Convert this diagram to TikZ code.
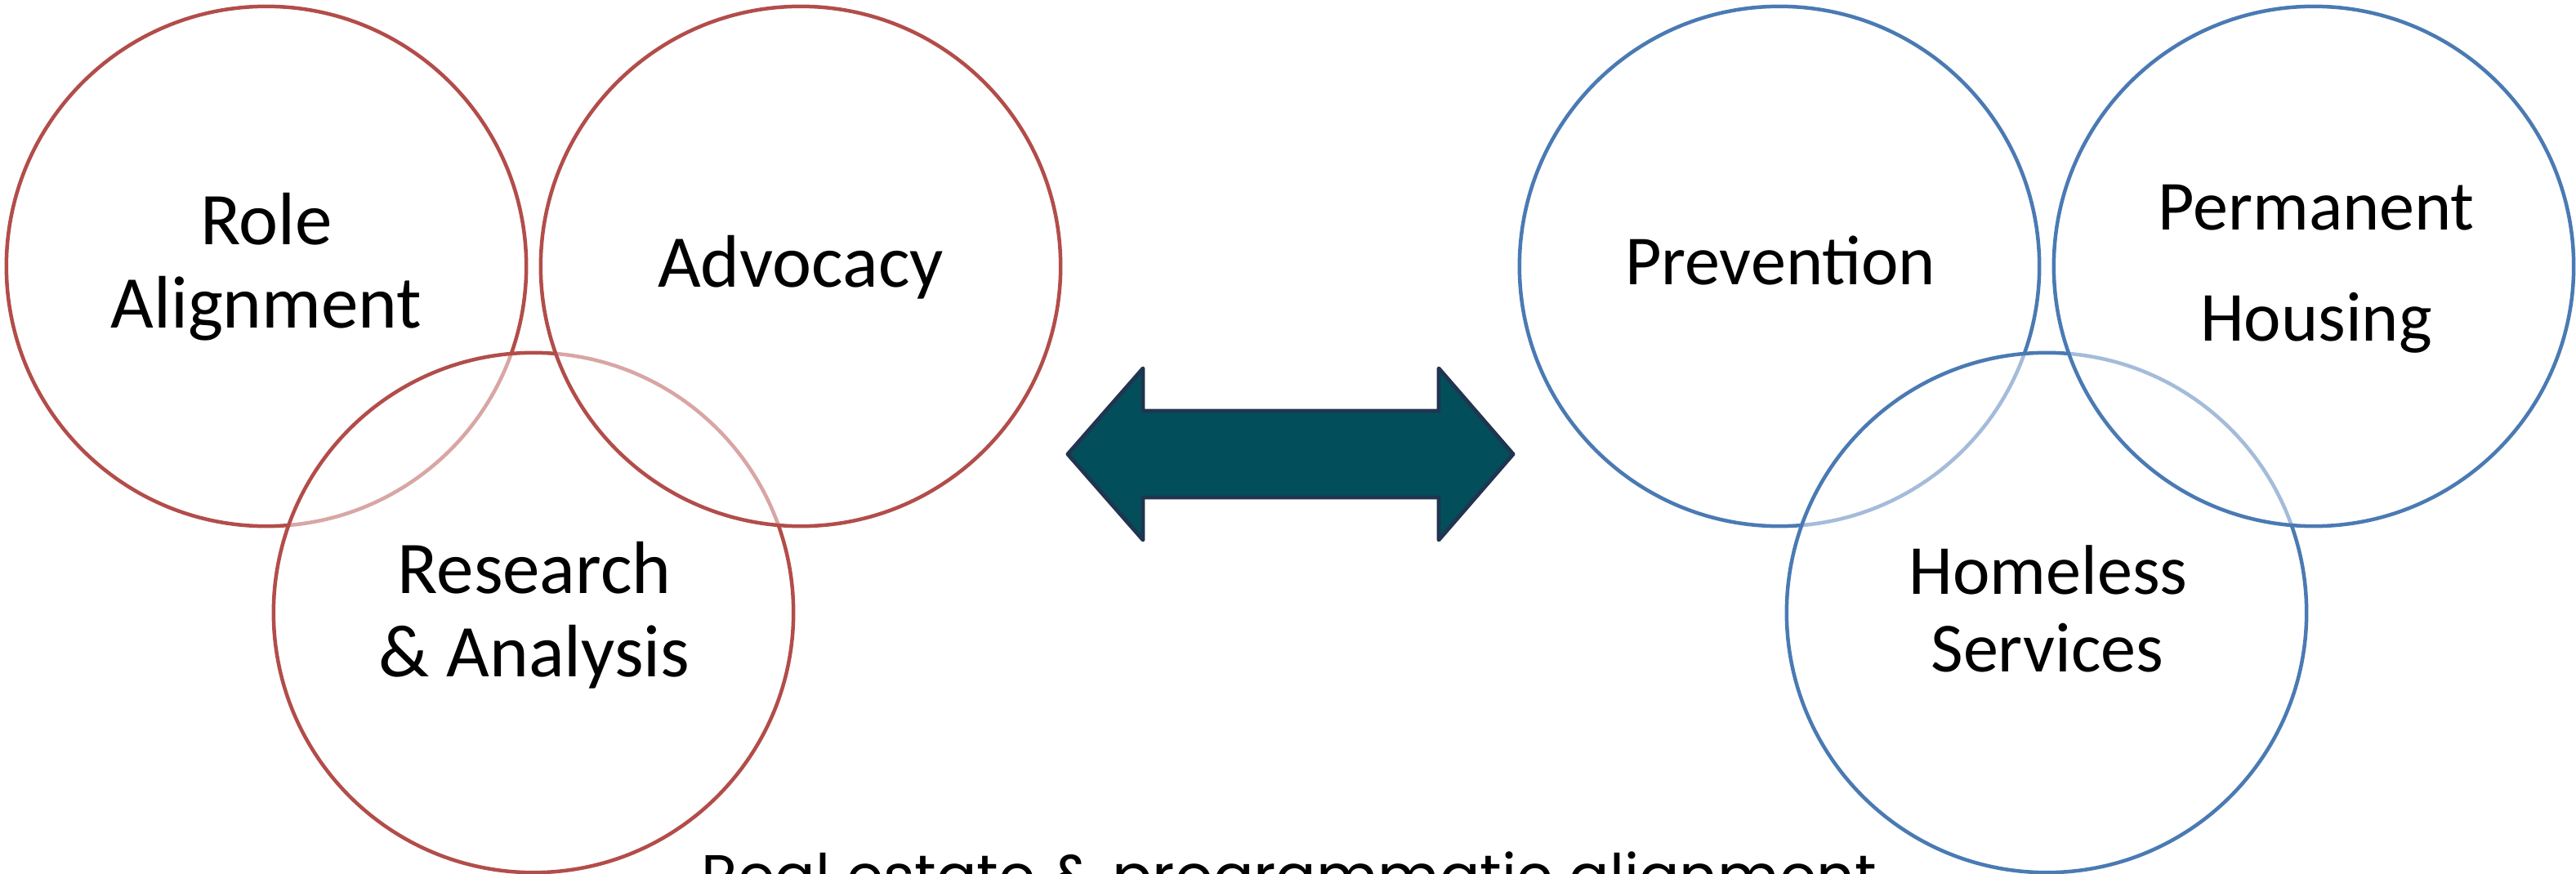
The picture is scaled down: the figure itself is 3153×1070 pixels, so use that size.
\documentclass[tikz,border=0pt]{standalone}
\usepackage{graphicx}
\usepackage{fontspec}
\setmainfont{Carlito}
\newfontfamily\captfont{Poppins}
\definecolor{vred}{HTML}{B24D4A}
\definecolor{vblue}{HTML}{4A7AB3}
\definecolor{arrfill}{HTML}{034E5B}
\definecolor{arrline}{HTML}{1F3550}
\begin{document}
\begin{tikzpicture}[x=0.01cm,y=-0.01cm,
  ring/.style={circle, draw, line width=1.28pt, minimum size=6.36cm, inner sep=0pt, fill=white, fill opacity=0.5},
  redring/.style={ring, draw=vred},
  bluering/.style={ring, draw=vblue},
  lblL/.style={anchor=base, inner sep=0pt, font=\fontsize{25.9}{31}\selectfont},
  lblR/.style={anchor=base, inner sep=0pt, font=\fontsize{24.5}{29}\selectfont},
  bigarrow/.style={fill=arrfill, draw=arrline, line width=1.4pt, line join=round}]
\useasboundingbox (0,0) rectangle (3153,1070);
% left group (stacking order: role, research, advocacy)
\node[redring] (role) at (326,326) {};
\node[redring] (research) at (653,750) {};
\node[redring] (advocacy) at (980,326) {};
% right group
\node[bluering] (prevention) at (2178,326) {};
\node[bluering] (homeless) at (2505,750) {};
\node[bluering] (permanent) at (2832,326) {};
% labels
\node[lblL] (role1) at (326,300) {Role};
\node[lblL] (role2) at (326,402) {Alignment};
\node[lblL] (adv1) at (980,351) {Advocacy};
\node[lblL] (res1) at (654,726) {Research};
\node[lblL] (res2) at (654,828) {\& Analysis};
\node[lblR] (prev1) at (2179,349) {Prevention};
\node[lblR] (perm1) at (2835,282) {Permanent};
\node[lblR] (perm2) at (2835,417) {Housing};
\node[lblR] (home1) at (2507,727) {Homeless};
\node[lblR] (home2) at (2506,822) {Services};
% double arrow
\draw[bigarrow] (1307,556) -- (1399,451) -- (1399,503) -- (1761,503) -- (1761,451)
  -- (1852,556) -- (1761,661) -- (1761,609) -- (1399,609) -- (1399,661) -- cycle;
% caption (cut off at the bottom edge)
\node[anchor=base, inner sep=0pt] (caption) at (1578,1098)
  {\resizebox{14.37cm}{!}{\captfont Real estate \& programmatic alignment}};
\end{tikzpicture}
\end{document}
